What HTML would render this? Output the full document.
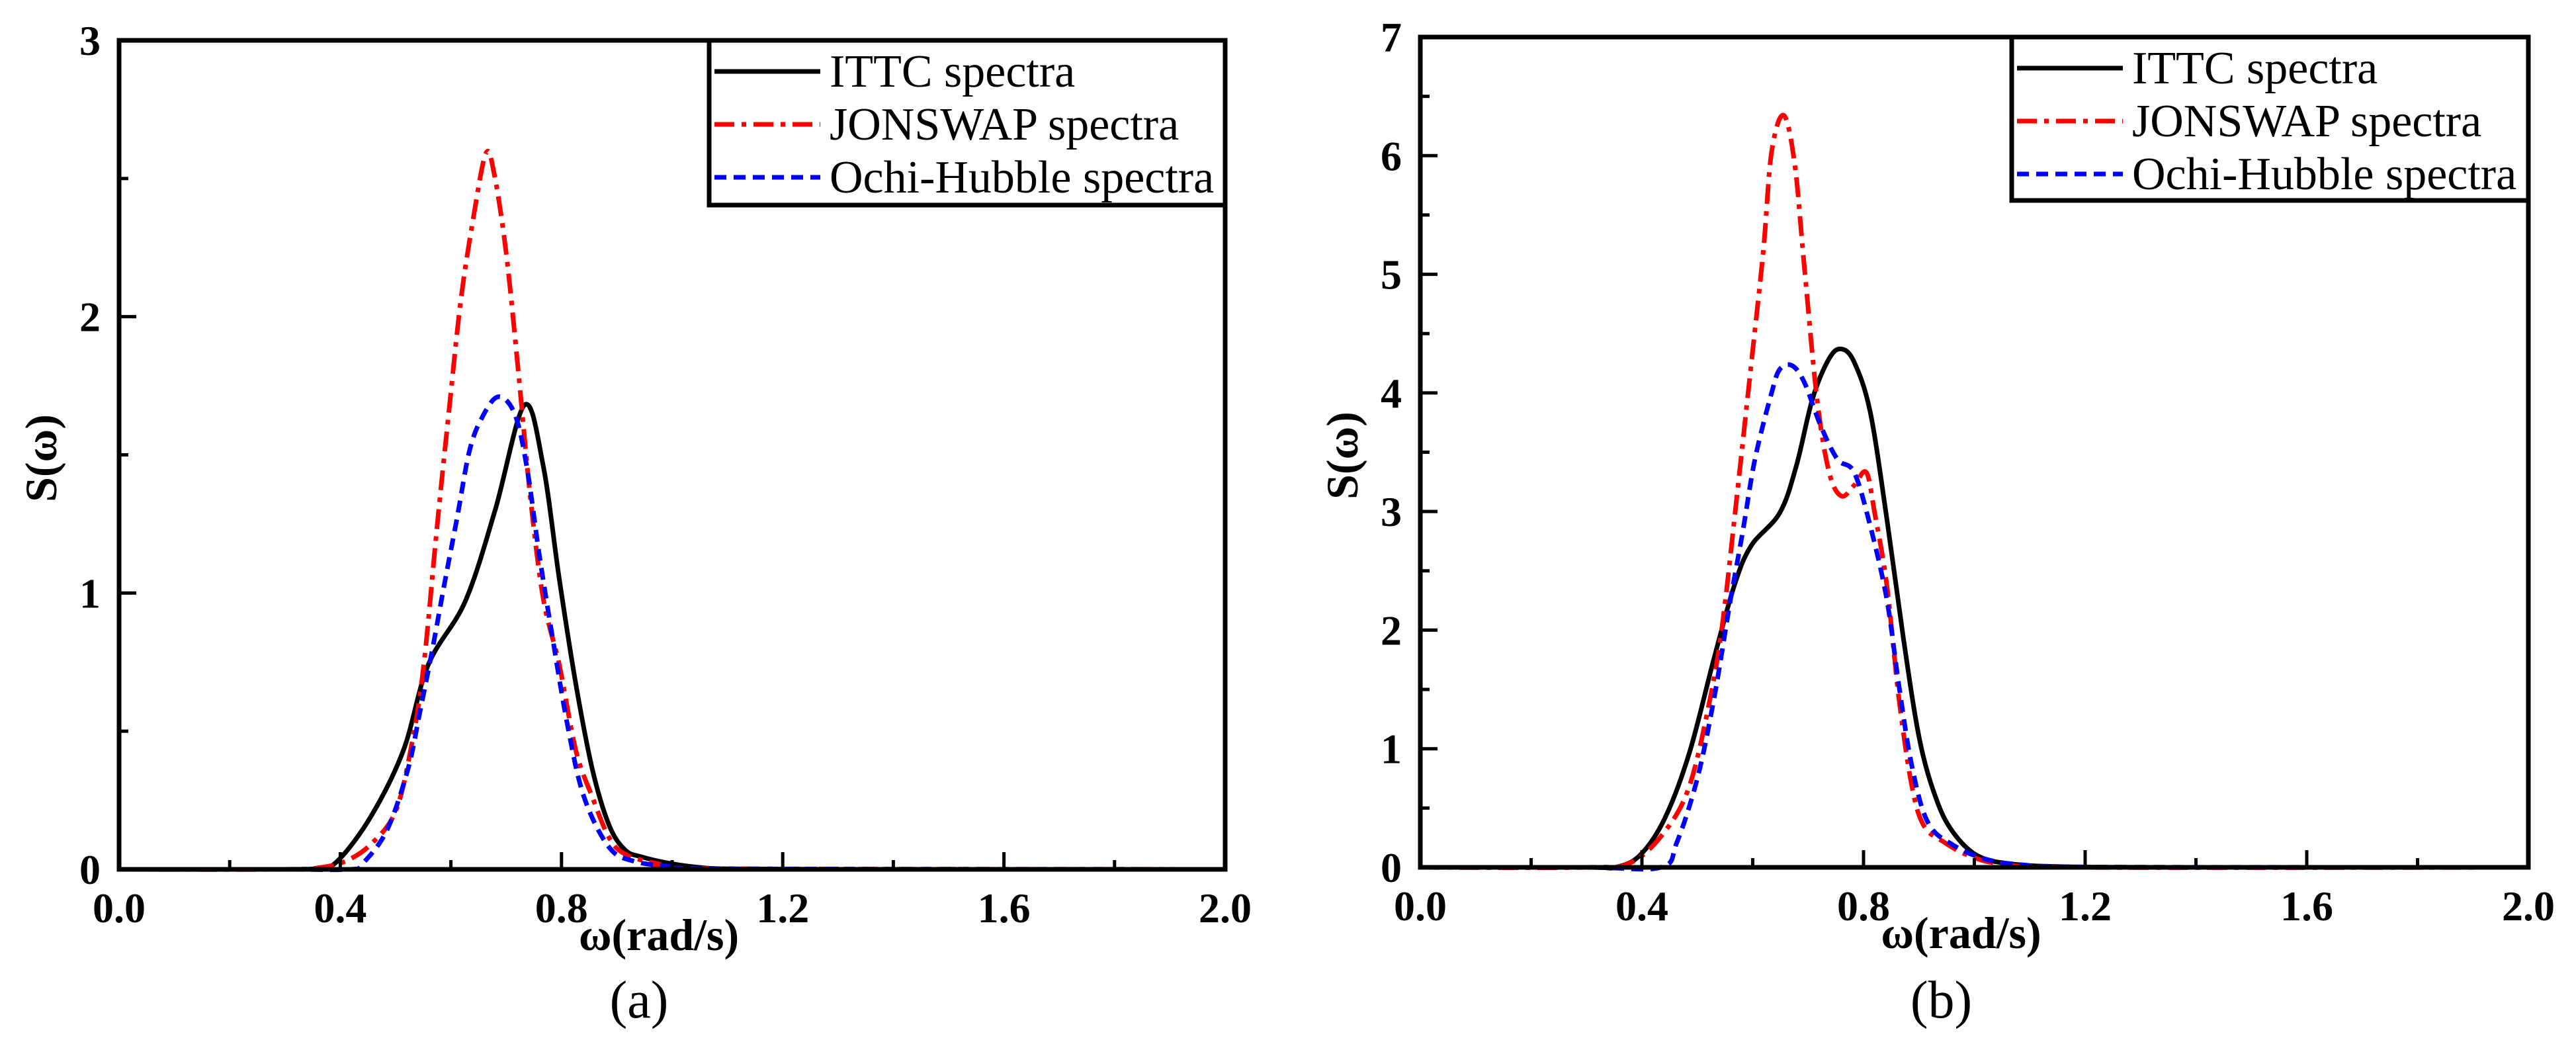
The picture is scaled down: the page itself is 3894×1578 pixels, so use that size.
<!DOCTYPE html>
<html><head><meta charset="utf-8">
<style>
html,body{margin:0;padding:0;background:#fff;}
svg{display:block;}
text{font-family:"Liberation Serif",serif;}
.tick{font-weight:bold;font-size:64px;}
.ttl{font-weight:bold;font-size:68px;}
.leg{font-size:70px;}
.cap{font-size:80px;}
</style></head>
<body>
<svg id="chart" width="3894" height="1578" viewBox="0 0 3894 1578" xmlns="http://www.w3.org/2000/svg"></svg>
<script>
const xTickLabels = ["0.0","0.4","0.8","1.2","1.6","2.0"];
const xTickValues = [0,0.4,0.8,1.2,1.6,2.0];
const aYTicks = [0,1,2,3];
const bYTicks = [0,1,2,3,4,5,6,7];
const seriesNames = ["ITTC spectra","JONSWAP spectra","Ochi-Hubble spectra"];

const aIttcX = [0,0.3,0.36,0.395,0.455,0.514,0.559,0.626,0.68,0.733,0.767,0.796,0.826,0.856,0.886,0.915,0.945,1.0,1.05,1.1,1.3,2.0];
const aIttcY = [0,0,0.005,0.03,0.19,0.43,0.74,0.97,1.3,1.68,1.46,1.05,0.67,0.36,0.16,0.07,0.045,0.02,0.007,0.002,0,0];
const aJonX = [0,0.3,0.365,0.41,0.455,0.5,0.529,0.551,0.574,0.596,0.618,0.64,0.663,0.678,0.70,0.722,0.744,0.767,0.796,0.826,0.856,0.886,0.915,0.975,1.05,2.0];
const aJonY = [0,0,0.007,0.03,0.09,0.21,0.45,0.74,1.22,1.65,2.06,2.35,2.59,2.52,2.23,1.8,1.34,0.98,0.74,0.43,0.26,0.115,0.055,0.02,0.003,0];
const aOchX = [0,0.3,0.418,0.44,0.484,0.522,0.544,0.566,0.588,0.611,0.633,0.655,0.685,0.715,0.737,0.759,0.782,0.811,0.841,0.886,0.93,1.0,1.1,2.0];
const aOchY = [0,0,0,0.02,0.14,0.36,0.57,0.79,1.03,1.27,1.51,1.63,1.71,1.65,1.46,1.15,0.86,0.52,0.26,0.08,0.03,0.01,0.002,0];

const bIttcX = [0,0.3,0.352,0.396,0.441,0.486,0.53,0.567,0.597,0.649,0.679,0.708,0.738,0.76,0.783,0.812,0.842,0.872,0.901,0.931,0.961,1.005,1.065,1.17,1.4,2.0];
const bIttcY = [0,0,0,0.1,0.41,0.97,1.76,2.38,2.71,2.99,3.39,3.95,4.29,4.37,4.26,3.84,2.94,1.93,1.08,0.58,0.30,0.1,0.03,0.005,0,0];
const bJonX = [0,0.3,0.38,0.441,0.486,0.523,0.545,0.567,0.597,0.619,0.634,0.656,0.676,0.693,0.716,0.738,0.76,0.783,0.805,0.82,0.842,0.864,0.887,0.909,0.946,0.99,1.05,1.2,2.0];
const bJonY = [0,0,0.04,0.3,0.69,1.42,2.04,2.94,4.23,5.19,6.03,6.34,5.92,5.07,3.95,3.33,3.13,3.22,3.33,2.99,2.38,1.42,0.69,0.35,0.21,0.1,0.03,0,0];
const bOchX = [0,0.3,0.434,0.463,0.5,0.53,0.56,0.582,0.604,0.634,0.649,0.671,0.693,0.723,0.753,0.783,0.812,0.842,0.864,0.887,0.916,0.961,1.02,1.09,1.2,2.0];
const bOchY = [0,0,0,0.21,0.75,1.42,2.26,2.83,3.44,4.0,4.2,4.23,4.09,3.72,3.44,3.33,2.88,2.26,1.53,0.86,0.38,0.19,0.07,0.02,0.003,0];

const NS="http://www.w3.org/2000/svg";
const svg=document.getElementById('chart');
function mk(tag,attrs,parent){const e=document.createElementNS(NS,tag);for(const k in attrs)e.setAttribute(k,attrs[k]);(parent||svg).appendChild(e);return e;}

function smoothPath(pts){
  let d="M"+pts[0][0].toFixed(1)+","+pts[0][1].toFixed(1);
  for(let i=0;i<pts.length-1;i++){
    const p0=pts[Math.max(0,i-1)],p1=pts[i],p2=pts[i+1],p3=pts[Math.min(pts.length-1,i+2)];
    const c1=[p1[0]+(p2[0]-p0[0])/6,p1[1]+(p2[1]-p0[1])/6];
    const c2=[p2[0]-(p3[0]-p1[0])/6,p2[1]-(p3[1]-p1[1])/6];
    d+=" C"+c1[0].toFixed(1)+","+c1[1].toFixed(1)+" "+c2[0].toFixed(1)+","+c2[1].toFixed(1)+" "+p2[0].toFixed(1)+","+p2[1].toFixed(1);
  }
  return d;
}

const styles=[
 {stroke:"#000",dash:"none"},
 {stroke:"#ff0000",dash:"30 11 7 11"},
 {stroke:"#0000ff",dash:"18 11"}
];

function panel(id,L,R,T,B,ymax,yTicks,series,legX,legB,caption){
  const g=mk('g',{},svg);
  
  
  const sx=v=>L+(v/2.0)*(R-L);
  const sy=v=>B-(v/ymax)*(B-T);
  series.forEach((s,i)=>{
    const pts=s[0].map((x,j)=>[sx(x),sy(s[1][j])]);
    const p=mk('path',{d:smoothPath(pts),fill:"none",stroke:styles[i].stroke,"stroke-width":7,"stroke-dasharray":styles[i].dash,"stroke-linejoin":"round"},g);
    
    
  });
  const fr=mk('rect',{x:L,y:T,width:R-L,height:B-T,fill:"none",stroke:"#000","stroke-width":7},g);
  
  
  for(let v=0;v<=2.0001;v+=0.2){
    const major=Math.abs(v/0.4-Math.round(v/0.4))<1e-6;
    const t=mk('line',{x1:sx(v),x2:sx(v),y1:B,y2:B-(major?26:14),stroke:"#000","stroke-width":5},g);
    
    
  }
  xTickValues.forEach((v,i)=>{
    const t=mk('text',{x:sx(v),y:B+80,"text-anchor":"middle",class:"tick"},g);
    t.textContent=xTickLabels[i];
    
    
  });
  for(let v=0;v<=ymax+1e-6;v+=0.5){
    const major=Math.abs(v-Math.round(v))<1e-6;
    const t=mk('line',{x1:L,x2:L+(major?26:14),y1:sy(v),y2:sy(v),stroke:"#000","stroke-width":5},g);
    
    
  }
  yTicks.forEach(v=>{
    const t=mk('text',{x:L-28,y:sy(v)+22,"text-anchor":"end",class:"tick"},g);
    t.textContent=String(v);
    
    
  });
  const xt=mk('text',{x:(L+R)/2-20,y:B+122,"text-anchor":"middle",class:"ttl"},g);
  xt.textContent="ω(rad/s)";
  
  
  const yc=(T+B)/2+5;
  const yt=mk('text',{x:L-95,y:yc,"text-anchor":"middle",class:"ttl",transform:"rotate(-90 "+(L-95)+" "+yc+")"},g);
  yt.textContent="S(ω)";
  
  
  const lg=mk('g',{},g);
  
  
  const lb=mk('rect',{x:legX,y:T,width:R-legX,height:legB-T,fill:"#fff",stroke:"#000","stroke-width":7},lg);
  
  
  [0,1,2].forEach(i=>{
    const cy=T+47+i*80;
    const ln=mk('line',{x1:legX+8,x2:legX+168,y1:cy,y2:cy,stroke:styles[i].stroke,"stroke-width":7,"stroke-dasharray":styles[i].dash},lg);
    
    
    const tx=mk('text',{x:legX+182,y:cy+23,class:"leg"},lg);
    tx.textContent=seriesNames[i];
    
    
  });
  const cp=mk('text',{x:(L+R)/2-50,y:1538,"text-anchor":"middle",class:"cap"},g);
  cp.textContent=caption;
  
  
}

panel('panel-a',180,1852,61,1314,3,aYTicks,[[aIttcX,aIttcY],[aJonX,aJonY],[aOchX,aOchY]],1072,310,"(a)");
panel('panel-b',2147,3822,56,1311,7,bYTicks,[[bIttcX,bIttcY],[bJonX,bJonY],[bOchX,bOchY]],3041,303,"(b)");
</script>
</body></html>
